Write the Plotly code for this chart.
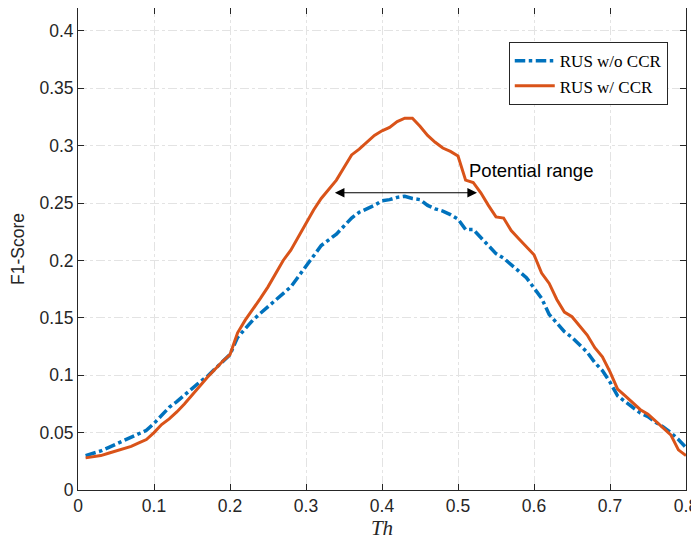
import plotly.graph_objects as go

th = [round(0.01 * i, 2) for i in range(1, 81)]

f1_without_ccr = [
    0.030, 0.032, 0.034, 0.037, 0.040, 0.043, 0.046, 0.049, 0.052, 0.058,
    0.065, 0.072, 0.077, 0.083, 0.088, 0.094, 0.099, 0.105, 0.111, 0.118,
    0.133, 0.141, 0.148, 0.154, 0.160, 0.166, 0.171, 0.177, 0.186, 0.195,
    0.205, 0.213, 0.218, 0.223, 0.230, 0.237, 0.242, 0.245, 0.248, 0.252,
    0.253, 0.255, 0.256, 0.254, 0.253, 0.248, 0.245, 0.243, 0.240, 0.236,
    0.227, 0.227, 0.220, 0.212, 0.206, 0.202, 0.196, 0.190, 0.185, 0.176,
    0.167, 0.153, 0.146, 0.138, 0.133, 0.127, 0.120, 0.111, 0.104, 0.094,
    0.082, 0.077, 0.072, 0.067, 0.064, 0.059, 0.055, 0.050, 0.044, 0.037,
]

f1_with_ccr = [
    0.028, 0.029, 0.030, 0.032, 0.034, 0.036, 0.038, 0.041, 0.044, 0.050,
    0.057, 0.062, 0.068, 0.075, 0.083, 0.090, 0.098, 0.105, 0.112, 0.118,
    0.137, 0.148, 0.157, 0.167, 0.177, 0.188, 0.200, 0.209, 0.221, 0.232,
    0.244, 0.254, 0.262, 0.270, 0.281, 0.292, 0.297, 0.303, 0.309, 0.313,
    0.316, 0.321, 0.324, 0.324, 0.317, 0.309, 0.303, 0.298, 0.295, 0.291,
    0.270, 0.268, 0.259, 0.248, 0.238, 0.237, 0.226, 0.219, 0.212, 0.205,
    0.189, 0.180, 0.166, 0.155, 0.151, 0.143, 0.135, 0.124, 0.116, 0.103,
    0.088, 0.082, 0.076, 0.070, 0.066, 0.060, 0.054, 0.048, 0.035, 0.030,
]

x_ticks = [0, 0.1, 0.2, 0.3, 0.4, 0.5, 0.6, 0.7, 0.8]
x_tick_labels = ["0", "0.1", "0.2", "0.3", "0.4", "0.5", "0.6", "0.7", "0.8"]
y_ticks = [0, 0.05, 0.1, 0.15, 0.2, 0.25, 0.3, 0.35, 0.4]
y_tick_labels = ["0", "0.05", "0.1", "0.15", "0.2", "0.25", "0.3", "0.35", "0.4"]

arrow_left, arrow_right, arrow_y = 0.336, 0.525, 0.259

fig = go.Figure()
fig.add_trace(go.Scatter(
    x=th, y=f1_without_ccr, mode="lines", name="RUS w/o CCR",
    line=dict(color="#0072BD", width=3.5, dash="dashdot"),
))
fig.add_trace(go.Scatter(
    x=th, y=f1_with_ccr, mode="lines", name="RUS w/ CCR",
    line=dict(color="#D95319", width=3),
))

fig.add_annotation(
    x=arrow_right, y=arrow_y, ax=arrow_left, ay=arrow_y,
    xref="x", yref="y", axref="x", ayref="y",
    text="", showarrow=True, arrowhead=2, startarrowhead=2,
    arrowside="end+start", arrowsize=1.6, arrowwidth=1.2, arrowcolor="black",
    startarrowsize=1.6,
)
fig.add_annotation(
    x=0.512, y=0.278, xref="x", yref="y", text="Potential range",
    showarrow=False, xanchor="left", yanchor="middle",
    font=dict(family="Liberation Sans, Arial", size=18.5, color="black"),
)

axis_common = dict(
    showline=True, linecolor="#262626", linewidth=1, mirror="ticks",
    ticks="inside", ticklen=6, tickcolor="#262626", tickwidth=1,
    showgrid=True, gridcolor="#e3e3e3", gridwidth=1, griddash="dashdot",
    zeroline=False, automargin=False,
    tickfont=dict(family="Liberation Sans, Arial", size=17.5, color="#262626"),
)

fig.update_xaxes(
    range=[0, 0.8], tickvals=x_ticks, ticktext=x_tick_labels,
    title=dict(text="<i>Th</i>", font=dict(family="Liberation Serif, Times New Roman", size=21, color="#262626"), standoff=4),
    **axis_common,
)
fig.update_yaxes(
    range=[0, 0.42], tickvals=y_ticks, ticktext=y_tick_labels,
    title=dict(text="F1-Score", font=dict(family="Liberation Sans, Arial", size=17.5, color="#262626"), standoff=14),
    **axis_common,
)

# The page body has a default 8px margin, so the figure is shrunk by 8px
fig.update_layout(
    width=691, height=535,
    margin=dict(l=70, r=13, t=0, b=53),
    plot_bgcolor="white", paper_bgcolor="white",
    showlegend=True,
    legend=dict(
        x=0.970, y=0.929, xanchor="right", yanchor="top",
        bgcolor="white", bordercolor="#262626", borderwidth=1,
        font=dict(family="Liberation Serif, Times New Roman", size=17, color="black"),
        tracegroupgap=0, itemwidth=40,
    ),
)

fig.write_html("out.html")
